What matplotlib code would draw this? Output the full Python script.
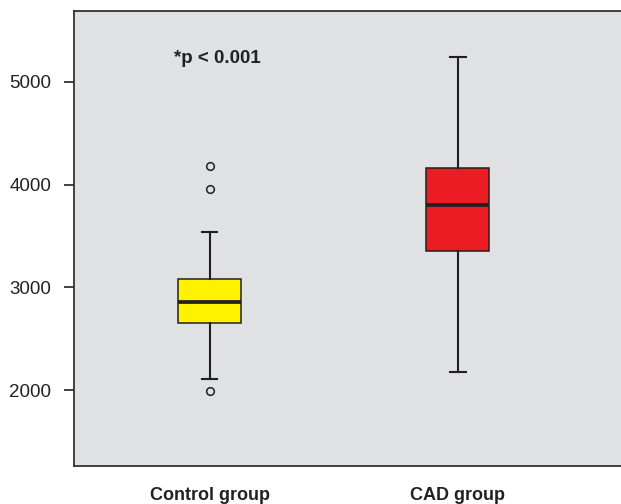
import matplotlib
matplotlib.use("Agg")
import matplotlib.pyplot as plt

plt.rcParams['font.family'] = ['Liberation Sans', 'DejaVu Sans']

groups = ["Control group", "CAD group"]
q1 = [2653, 3354]
medians = [2857, 3799]
q3 = [3078, 4159]
whisker_low = [2107, 2175]
whisker_high = [3542, 5246]
outliers = [[4182, 3955, 1993], []]
colors = ["#fff200", "#ed1c24"]
yticks = [2000, 3000, 4000, 5000]
annotation = "*p < 0.001"

stats = []
for i, g in enumerate(groups):
    stats.append(dict(label=g, q1=q1[i], med=medians[i], q3=q3[i],
                      whislo=whisker_low[i], whishi=whisker_high[i],
                      fliers=outliers[i]))

fig = plt.figure(figsize=(6.21, 5.04), dpi=100)
ax = fig.add_axes([0.1187, 0.0754, 0.8813, 0.9034])
ax.set_facecolor("#e0e1e3")

edge = "#231f20"
bp = ax.bxp(stats, positions=[1, 2], widths=0.2535, patch_artist=True,
            capwidths=0.062,
            boxprops=dict(edgecolor=edge, linewidth=1.1),
            medianprops=dict(color=edge, linewidth=2.7),
            whiskerprops=dict(color=edge, linewidth=1.5),
            capprops=dict(color=edge, linewidth=1.5),
            flierprops=dict(marker='o', markerfacecolor='none',
                            markeredgecolor=edge, markersize=5.5,
                            markeredgewidth=1.1))
for patch, c in zip(bp['boxes'], colors):
    patch.set_facecolor(c)

ax.set_xlim(0.4535, 2.656)
ax.set_ylim(1260, 5694)
ax.set_yticks(yticks)
ax.set_yticklabels([str(t) for t in yticks], fontsize=13.5, color="#222222")
ax.tick_params(axis='y', length=7, width=1.3, color="#333333", pad=9)
ax.set_xticks([1, 2])
ax.set_xticklabels(groups, fontsize=13, fontweight='bold', color="#222222")
ax.tick_params(axis='x', length=0, pad=15)

for s in ['left', 'bottom', 'top']:
    ax.spines[s].set_color("#333333")
    ax.spines[s].set_linewidth(1.3)
ax.spines['right'].set_visible(False)

ax.text(0.183, 0.896, annotation, transform=ax.transAxes, fontsize=13.5,
        fontweight='bold', color="#222222", ha='left', va='center')

fig.savefig("out.png", dpi=100)
